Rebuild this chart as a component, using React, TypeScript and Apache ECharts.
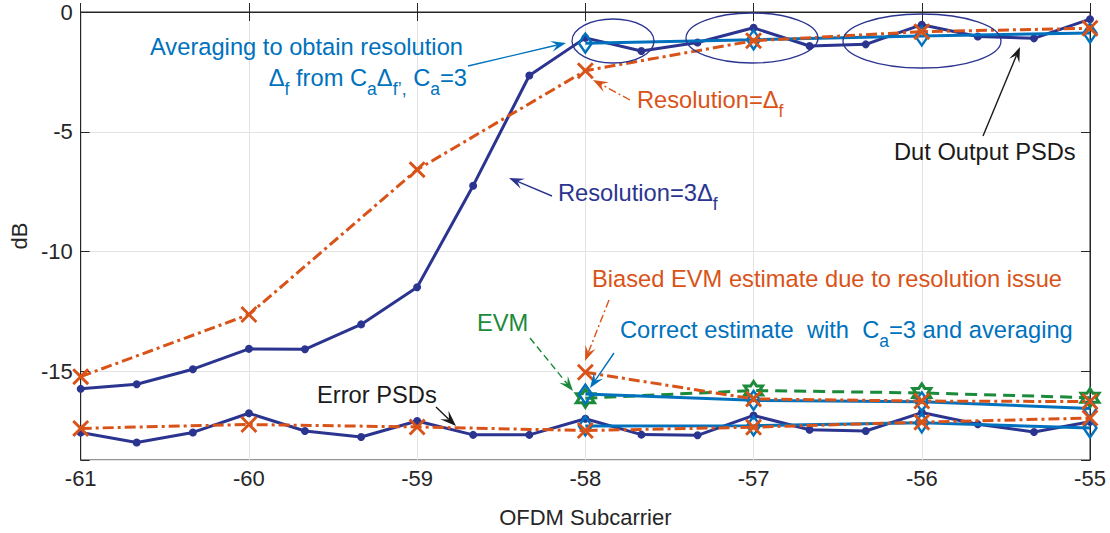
import React, { useEffect, useRef } from 'react';
import * as echarts from 'echarts';

// ---- data ----
const xFine = [-61, -60.667, -60.333, -60, -59.667, -59.333, -59, -58.667, -58.333, -58, -57.667, -57.333, -57, -56.667, -56.333, -56, -55.667, -55.333, -55];
const xInt = [-61, -60, -59, -58, -57, -56, -55];
const xAvg = [-58, -57, -56, -55];

// DUT output PSDs
const dutRes3 = [-15.73, -15.54, -14.91, -14.06, -14.08, -13.04, -11.49, -7.25, -2.65, -1.08, -1.63, -1.27, -0.66, -1.42, -1.35, -0.53, -1.02, -1.1, -0.3];
const dutRes1 = [-15.22, -12.63, -6.58, -2.45, -1.2, -0.82, -0.68];
const dutAvg = [-1.3, -1.16, -1.0, -0.88];

// Error PSDs
const errRes3 = [-17.55, -17.97, -17.55, -16.75, -17.49, -17.74, -17.07, -17.65, -17.65, -16.98, -17.64, -17.67, -16.84, -17.44, -17.49, -16.72, -17.21, -17.53, -17.1];
const errRes1 = [-17.38, -17.22, -17.32, -17.47, -17.33, -17.12, -16.95];
const errAvg = [-17.28, -17.27, -17.15, -17.36];

// EVM estimates
const evmBiased = [-15.04, -16.15, -16.24, -16.26];
const evmCorrect = [-15.95, -16.21, -16.27, -16.55];
const evmTrue = [-16.12, -15.8, -15.9, -16.1];

const yTicks = [0, -5, -10, -15];
const xTicks = [-61, -60, -59, -58, -57, -56, -55];

// ---- styles ----
const NAVY = '#2b3590';
const ORANGE = '#d95319';
const BLUE = '#0072bd';
const GREEN = '#1b8a3a';
const INK = '#262626';
const FONT = '"Liberation Sans", Arial, Helvetica, sans-serif';
const ANN = 23.7;

const X_PATH = 'path://M0,1.2L1.2,0L5,3.8L8.8,0L10,1.2L6.2,5L10,8.8L8.8,10L5,6.2L1.2,10L0,8.8L3.8,5Z';
const HEX_PATH = 'path://M0,-10L2.89,-5L8.66,-5L5.77,0L8.66,5L2.89,5L0,10L-2.89,5L-8.66,5L-5.77,0L-8.66,-5L-2.89,-5Z';

const pairs = (xs: number[], ys: number[]) => xs.map((x, i) => [x, ys[i]]);

function navySeries(ys: number[]) {
  return {
    type: 'line', data: pairs(xFine, ys), symbol: 'circle', symbolSize: 8,
    lineStyle: { color: NAVY, width: 3 }, itemStyle: { color: NAVY }, z: 3,
  };
}
function orangeSeries(xs: number[], ys: number[]) {
  return {
    type: 'line', data: pairs(xs, ys), symbol: X_PATH, symbolSize: 17,
    lineStyle: { color: ORANGE, width: 3, type: [11, 4, 3, 4] }, itemStyle: { color: ORANGE }, z: 5,
  };
}
function blueSeries(ys: number[]) {
  return {
    type: 'line', data: pairs(xAvg, ys), symbol: 'diamond', symbolSize: [13, 19],
    lineStyle: { color: BLUE, width: 3 }, itemStyle: { color: 'rgba(0,0,0,0)', borderColor: BLUE, borderWidth: 2.5 }, z: 4,
  };
}

function arrow(x1: number, y1: number, x2: number, y2: number, color: string, dash: number[] | null, L = 15, W = 11) {
  const dx = x2 - x1, dy = y2 - y1;
  const len = Math.hypot(dx, dy);
  const ux = dx / len, uy = dy / len, nx = -uy, ny = ux;
  const bx = x2 - ux * L, by = y2 - uy * L;
  const ix = x2 - ux * L * 0.6, iy = y2 - uy * L * 0.6;
  return [
    { type: 'line', silent: true, z: 20, shape: { x1, y1, x2: ix, y2: iy }, style: { stroke: color, lineWidth: 1.4, lineDash: dash || undefined } },
    { type: 'polygon', silent: true, z: 20, shape: { points: [[x2, y2], [bx + nx * W / 2, by + ny * W / 2], [ix, iy], [bx - nx * W / 2, by - ny * W / 2]] }, style: { fill: color } },
  ];
}

const richFor = () => ({
  m: { fontSize: ANN, fontFamily: FONT, lineHeight: 40 },
  s: { fontSize: 17.5, fontFamily: FONT, verticalAlign: 'bottom' },
});

function label(text: string, x: number, y: number, color: string, align = 'left') {
  return {
    type: 'text', silent: true, z: 20, x, y,
    style: { text, fill: color, fontSize: ANN, fontFamily: FONT, align, verticalAlign: 'middle', rich: richFor() },
  };
}

function ellipse(cx: number, cy: number, rx: number, ry: number) {
  return { type: 'ellipse', silent: true, z: 20, shape: { cx, cy, rx, ry }, style: { fill: 'none', stroke: NAVY, lineWidth: 1.3 } };
}

export default function App() {
  const ref = useRef<HTMLDivElement>(null);
  useEffect(() => {
    if (!ref.current) return;
    const chart = echarts.init(ref.current, null, { renderer: 'svg' });
    const axisCommon = {
      type: 'value',
      axisLine: { show: true, lineStyle: { color: INK, width: 1 } },
      axisTick: { show: true, inside: true, length: 9, lineStyle: { color: INK } },
    };
    const yFmt = (v: number) => (yTicks.some((t) => Math.abs(t - v) < 1e-6) ? String(v) : '');
    const xFmt = (v: number) => (xTicks.some((t) => Math.abs(t - v) < 1e-6) ? String(v) : '');
    const option: any = {
      animation: false,
      backgroundColor: '#ffffff',
      grid: { left: 80, right: 20, top: 12, bottom: 72, show: true, borderColor: INK, borderWidth: 1, backgroundColor: 'transparent' },
      xAxis: [
        {
          ...axisCommon, min: -61, max: -55, interval: 1, position: 'bottom',
          name: 'OFDM Subcarrier', nameLocation: 'middle', nameGap: 46,
          nameTextStyle: { fontSize: 22, color: INK, fontFamily: FONT },
          axisLabel: { fontSize: 22, color: INK, fontFamily: FONT, margin: 7, formatter: xFmt },
          splitLine: { show: true, lineStyle: { color: '#e3e3e3', width: 1 } },
        },
        {
          ...axisCommon, min: -61, max: -55, interval: 1, position: 'top',
          axisLabel: { show: false }, splitLine: { show: false },
        },
      ],
      yAxis: [
        {
          ...axisCommon, min: -18.7, max: 0, splitNumber: 4, position: 'left',
          name: 'dB', nameLocation: 'middle', nameGap: 50,
          nameTextStyle: { fontSize: 22, color: INK, fontFamily: FONT },
          axisLabel: { fontSize: 22, color: INK, fontFamily: FONT, margin: 8, formatter: yFmt },
          splitLine: { show: true, lineStyle: { color: '#e3e3e3', width: 1 } },
        },
        {
          ...axisCommon, min: -18.7, max: 0, splitNumber: 4, position: 'right',
          axisLabel: { show: false }, splitLine: { show: false },
        },
      ],
      series: [
        {
          type: 'line', data: pairs(xAvg, evmTrue), symbol: HEX_PATH, symbolSize: 18,
          lineStyle: { color: GREEN, width: 3, type: [12, 7] },
          itemStyle: { color: 'rgba(0,0,0,0)', borderColor: GREEN, borderWidth: 3 }, z: 2,
        },
        navySeries(dutRes3),
        navySeries(errRes3),
        blueSeries(dutAvg),
        blueSeries(errAvg),
        blueSeries(evmCorrect),
        orangeSeries(xInt, dutRes1),
        orangeSeries(xInt, errRes1),
        orangeSeries(xAvg, evmBiased),
      ],
      graphic: [
        ellipse(613, 41, 41, 22),
        ellipse(752, 38, 66, 25),
        ellipse(922, 41, 79, 27),
        label('{m|Averaging to obtain resolution}', 150, 47, BLUE),
        label('{m|Δ}{s|f}{m| from C}{s|a}{m|Δ}{s|f’,}{m| C}{s|a}{m|=3}', 467, 78, BLUE, 'right'),
        label('{m|Resolution=Δ}{s|f}', 637, 100, ORANGE),
        label('{m|Dut Output PSDs}', 894, 152, '#1a1a1a'),
        label('{m|Resolution=3Δ}{s|f}', 558, 193, NAVY),
        label('{m|Biased EVM estimate due to resolution issue}', 592, 279, ORANGE),
        label('{m|Correct estimate  with  C}{s|a}{m|=3 and averaging}', 620, 330, BLUE),
        label('{m|EVM}', 477, 323, GREEN),
        label('{m|Error PSDs}', 317, 395, '#1a1a1a'),
        ...arrow(468, 66, 566, 43, BLUE, null),
        ...arrow(630, 100, 593, 80, ORANGE, [8, 3, 2, 3]),
        ...arrow(983, 136, 1020, 47, '#1a1a1a', null),
        ...arrow(552, 196, 509, 178, NAVY, null),
        ...arrow(609, 300, 585, 361, ORANGE, [8, 3, 2, 3]),
        ...arrow(614, 353, 590, 388, BLUE, null),
        ...arrow(530, 338, 573, 391, GREEN, [7, 4]),
        ...arrow(436, 407, 456, 426, '#1a1a1a', null, 16, 12),
      ],
    };
    chart.setOption(option);
    return () => chart.dispose();
  }, []);
  return <div ref={ref} style={{ position: 'absolute', left: 0, top: 0, width: 1110, height: 533, background: '#fff' }} />;
}
